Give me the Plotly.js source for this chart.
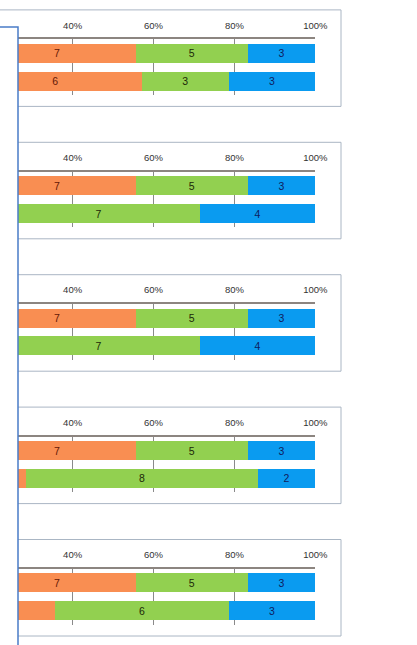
<!DOCTYPE html>
<html>
<head>
<meta charset="utf-8">
<script src="https://cdn.plot.ly/plotly-3.0.1.min.js"></script>
<style>html,body{margin:0;padding:0;background:#fff;}#chart{width:417px;height:645px;}</style>
</head>
<body>
<div id="chart"></div>
<script>
// Data (five panels, two bars each, four stacked series; first series lies off the visible crop)
const categories = ['1', '2'];
const seriesNames = ['S1', 'S2', 'S3', 'S4'];
const seriesColors = ['#4F81BD', '#F98E52', '#92D050', '#0A9BF0'];
const labelColors = ['#1f2f5f', '#641806', '#1c2808', '#0f1c5e'];
const panel1 = [[3, 2], [7, 6], [5, 3], [3, 3]];
const panel2 = [[3, 3], [7, 0], [5, 7], [3, 4]];
const panel3 = [[3, 3], [7, 0], [5, 7], [3, 4]];
const panel4 = [[3, 3], [7, 1], [5, 8], [3, 2]];
const panel5 = [[3, 2], [7, 3], [5, 6], [3, 3]];
const panels = [panel1, panel2, panel3, panel4, panel5];
const tickVals = [40, 60, 80, 100];
const tickText = ['40%', '60%', '80%', '100%'];

const W = 417, H = 645;
const XMIN = 26.5, XMAX = 100;
const traces = [];
const layout = {
  width: W, height: H,
  margin: {l: 0, r: 0, t: 0, b: 0},
  paper_bgcolor: '#ffffff', plot_bgcolor: 'rgba(0,0,0,0)',
  barmode: 'stack', barnorm: 'percent', bargap: 0.32,
  showlegend: false,
  shapes: [], annotations: []
};

panels.forEach((p, k) => {
  const T = 9.9 + 132.4 * k;
  const xa = k === 0 ? 'x' : 'x' + (k + 1);
  const ya = k === 0 ? 'y' : 'y' + (k + 1);
  const xk = k === 0 ? 'xaxis' : 'xaxis' + (k + 1);
  const yk = k === 0 ? 'yaxis' : 'yaxis' + (k + 1);
  // totals per bar, to know which labels fall inside the visible crop
  const totals = categories.map((_, c) => p.reduce((a, s) => a + s[c], 0));
  const cum = categories.map(() => 0);
  p.forEach((vals, s) => {
    const text = vals.map((v, c) => {
      const start = cum[c] / totals[c] * 100;
      cum[c] += v;
      const mid = start + v / totals[c] * 50;
      return (v && mid > XMIN) ? String(v) : '';
    });
    traces.push({
      type: 'bar', orientation: 'h',
      x: vals, y: categories,
      xaxis: xa, yaxis: ya,
      name: seriesNames[s],
      marker: {color: seriesColors[s], line: {width: 0}},
      text: text,
      textposition: 'inside', insidetextanchor: 'middle',
      textangle: 0, constraintext: 'none',
      textfont: {family: 'Liberation Sans, Arial, sans-serif', size: 10.5, color: labelColors[s]},
      cliponaxis: true, hoverinfo: 'none'
    });
  });
  layout[xk] = {
    domain: [18 / W, 315.3 / W],
    range: [XMIN, XMAX],
    side: 'top',
    tickvals: tickVals, ticktext: tickText,
    ticks: '', ticklabelstandoff: 5,
    tickfont: {family: 'Liberation Sans, Arial, sans-serif', size: 9.5, color: '#333333'},
    showgrid: true, gridcolor: '#8a8a8a', gridwidth: 1,
    zeroline: false,
    showline: true, linecolor: '#8c8580', linewidth: 2,
    anchor: ya, fixedrange: true
  };
  layout[yk] = {
    domain: [1 - (T + 85.1) / H, 1 - (T + 29.5) / H],
    autorange: 'reversed',
    showticklabels: false, showgrid: false, zeroline: false, showline: false,
    anchor: xa, fixedrange: true
  };
  layout.shapes.push({
    type: 'rect', xref: 'paper', yref: 'paper',
    x0: -0.05, x1: 341 / W,
    y0: 1 - (T + 96.5) / H, y1: 1 - T / H,
    line: {color: '#aab6c4', width: 1}, fillcolor: 'rgba(0,0,0,0)', layer: 'above'
  });
});

// overlapping box at the left edge of the screenshot
layout.shapes.push({
  type: 'rect', xref: 'paper', yref: 'paper',
  x0: -0.05, x1: 18 / W, y0: -0.05, y1: 1 - 27 / H,
  line: {color: '#4a7cc8', width: 1.5}, fillcolor: '#ffffff', layer: 'above'
});

Plotly.newPlot('chart', traces, layout, {displayModeBar: false, staticPlot: true});
</script>
</body>
</html>
